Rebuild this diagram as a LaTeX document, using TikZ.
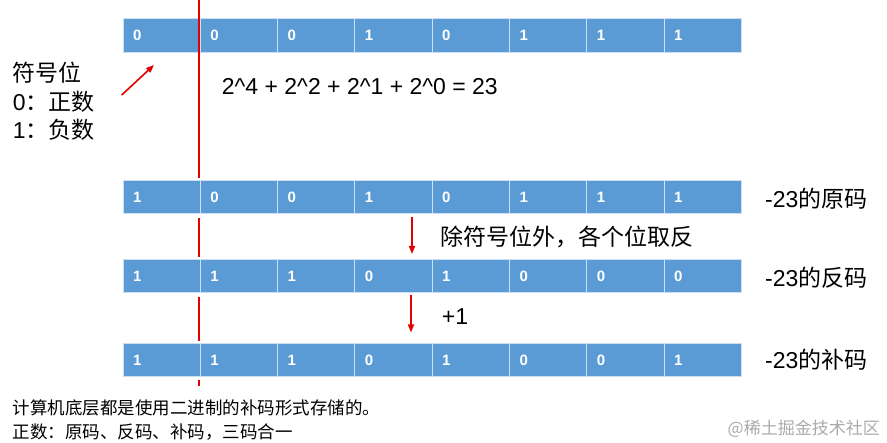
\documentclass[tikz,border=0pt]{standalone}
\usepackage{fontspec}
\setmainfont{Liberation Sans}
\newfontfamily\cjk{Noto Sans CJK SC}
\usetikzlibrary{arrows.meta}
\definecolor{barblue}{RGB}{91,155,213}
\definecolor{divider}{RGB}{205,224,242}
\definecolor{redline}{RGB}{226,0,0}
\definecolor{wmgray}{RGB}{170,170,170}
\tikzset{
  cell/.style={anchor=north west, fill=barblue, draw=divider, line width=1pt,
    minimum width=77.3pt, minimum height=33.3pt, inner xsep=10pt, inner ysep=0pt,
    text width=57.3pt, align=left, text=white, font=\fontsize{15}{17}\selectfont\bfseries},
  big/.style={anchor=west, inner sep=0pt, font=\fontsize{23}{28}\selectfont},
  small/.style={anchor=west, inner sep=0pt, font=\fontsize{17.5}{21}\selectfont\cjk},
  redl/.style={draw=redline, line width=2pt},
  redarrow/.style={draw=redline, line width=1.6pt, -{Triangle[length=8pt,width=6pt]}}
}
\begin{document}
\begin{tikzpicture}[x=1pt,y=-1pt]
\useasboundingbox (0,0) rectangle (887,443);
% rows
\def\cw{77.3}
\foreach \r/\y/\bits in {1/18.3/{0,0,0,1,0,1,1,1},2/180/{1,0,0,1,0,1,1,1},3/259/{1,1,1,0,1,0,0,0},4/342.7/{1,1,1,0,1,0,0,1}}{
  \foreach \b [count=\i] in \bits {
    \node[cell] (r\r c\i) at ({122.5+(\i-1)*\cw},\y) {\b};
  }
}
% red sign-bit separator
\coordinate (s0) at (198.5,0);
\coordinate (s1) at (198.5,178);
\coordinate (s2) at (198.5,218);
\coordinate (s3) at (198.5,257);
\coordinate (s4) at (198.5,297);
\coordinate (s5) at (198.5,341);
\coordinate (s6) at (198.5,380);
\coordinate (s7) at (198.5,386);
\draw[redl] (s0) -- (s1);
\draw[redl] (s2) -- (s3);
\draw[redl] (s4) -- (s5);
\draw[redl] (s6) -- (s7);
% arrows
\coordinate (a0) at (121.7,95);
\coordinate (a1) at (154,65);
\draw[redarrow] (a0) -- (a1);
\coordinate (d0) at (412,217);
\coordinate (d1) at (412,254);
\draw[redarrow] (d0) -- (d1);
\coordinate (e0) at (411,295);
\coordinate (e1) at (411,332.5);
\draw[redarrow] (e0) -- (e1);
% texts
\node[big] (formula) at (221.7,87) {2\textasciicircum4 + 2\textasciicircum2 + 2\textasciicircum1 + 2\textasciicircum0 = 23};
\node[big] (sign) at (12.7,73) {\cjk 符号位};
\node[big] (pos) at (12.7,102) {0{\cjk ：正数}};
\node[big] (neg) at (12.7,130) {1{\cjk ：负数}};
\node[big] (yuan) at (765,199) {-23{\cjk 的原码}};
\node[big] (fan) at (765,277.3) {-23{\cjk 的反码}};
\node[big] (bu) at (765,359.3) {-23{\cjk 的补码}};
\node[big] (invert) at (440.7,236.7) {\cjk 除符号位外，各个位取反};
\node[big] (plus) at (441.7,316.7) {+1};
\node[small] (note1) at (12.7,408.3) {计算机底层都是使用二进制的补码形式存储的。};
\node[small] (note2) at (12.7,431.7) {正数：原码、反码、补码，三码合一};
\node[small, anchor=east, text=wmgray, font=\fontsize{17}{20}\selectfont\cjk] (wm) at (880,428.3) {@稀土掘金技术社区};
\end{tikzpicture}
\end{document}
